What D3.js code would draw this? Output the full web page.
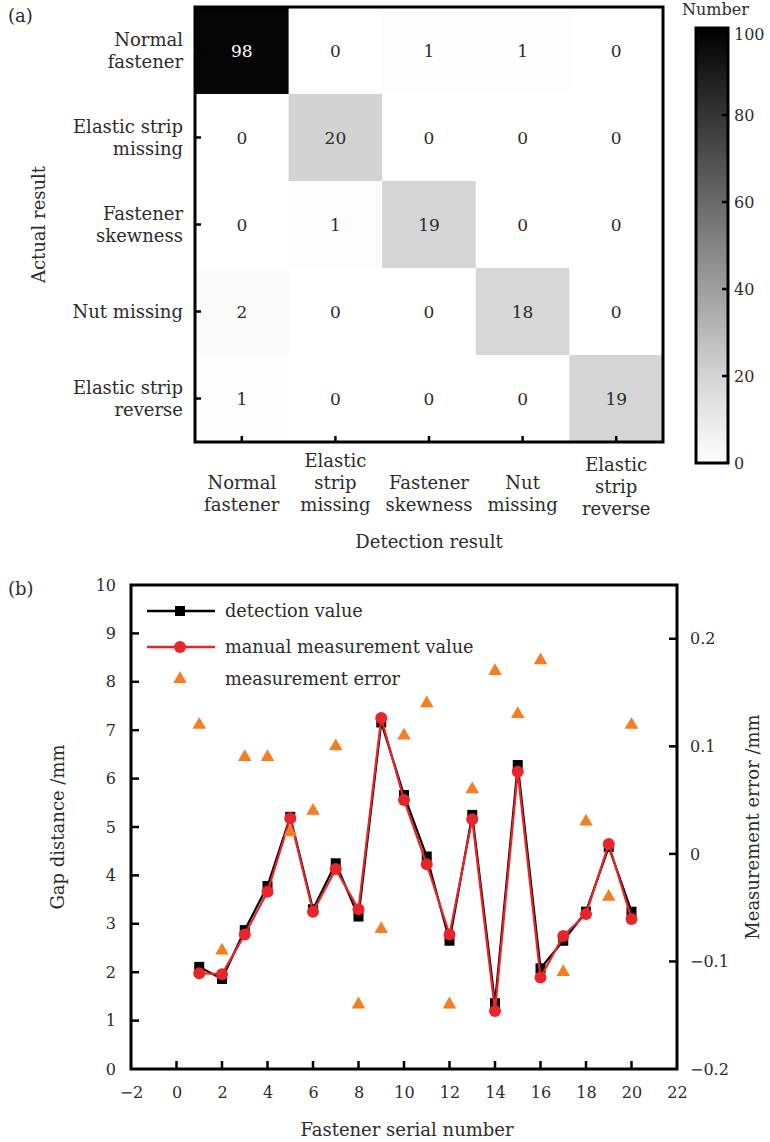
<!DOCTYPE html>
<html>
<head>
<meta charset="utf-8">
<script src="https://cdn.jsdelivr.net/npm/d3@7"></script>
<style>
  body { margin: 0; background: #fff; }
  text { font-family: "DejaVu Serif", serif; fill: #2b2b2b; }
</style>
</head>
<body>
<div id="chart"></div>
<script>
// (a) confusion matrix
var rowLabels = [["Normal", "fastener"], ["Elastic strip", "missing"], ["Fastener", "skewness"], ["Nut missing"], ["Elastic strip", "reverse"]];
var colLabels = [["Normal", "fastener"], ["Elastic", "strip", "missing"], ["Fastener", "skewness"], ["Nut", "missing"], ["Elastic", "strip", "reverse"]];
var matrix = [
    [98, 0, 1, 1, 0],
    [0, 20, 0, 0, 0],
    [0, 1, 19, 0, 0],
    [2, 0, 0, 18, 0],
    [1, 0, 0, 0, 19]
];
var colorTicks = [0, 20, 40, 60, 80, 100];

// (b) gap distance
var serial = [1, 2, 3, 4, 5, 6, 7, 8, 9, 10, 11, 12, 13, 14, 15, 16, 17, 18, 19, 20];
var detection = [2.11, 1.86, 2.87, 3.78, 5.21, 3.30, 4.25, 3.15, 7.16, 5.66, 4.39, 2.65, 5.25, 1.36, 6.28, 2.08, 2.65, 3.25, 4.59, 3.25];
var manual = [1.98, 1.96, 2.78, 3.66, 5.18, 3.25, 4.13, 3.30, 7.25, 5.56, 4.23, 2.78, 5.16, 1.20, 6.14, 1.89, 2.75, 3.20, 4.65, 3.10];
var errors = [0.12, -0.09, 0.09, 0.09, 0.02, 0.04, 0.10, -0.14, -0.07, 0.11, 0.14, -0.14, 0.06, 0.17, 0.13, 0.18, -0.11, 0.03, -0.04, 0.12];
var xTicks = [-2, 0, 2, 4, 6, 8, 10, 12, 14, 16, 18, 20, 22];
var yTicks = [0, 1, 2, 3, 4, 5, 6, 7, 8, 9, 10];
var y2Ticks = [-0.2, -0.1, 0, 0.1, 0.2];
var legendItems = ["detection value", "manual measurement value", "measurement error"];

var svg = d3.select("#chart").append("svg")
    .attr("width", 770)
    .attr("height", 1142);

/* ---------- (a) heatmap ---------- */
var hm = {left: 195, right: 663, top: 7, bottom: 442};

var hx = d3.scaleBand().domain(d3.range(5)).range([hm.left, hm.right]);
var hy = d3.scaleBand().domain(d3.range(5)).range([hm.top, hm.bottom]);
var color = d3.scaleLinear().domain([0, 20, 100]).range(["#ffffff", "#d3d3d3", "#000000"]);

var cells = [];
matrix.forEach(function(row, i) {
    row.forEach(function(v, j) { cells.push({r: i, c: j, v: v}); });
});

svg.append("g").selectAll("rect")
    .data(cells)
    .enter().append("rect")
    .attr("x", function(d) { return hx(d.c); })
    .attr("y", function(d) { return hy(d.r); })
    .attr("width", hx.bandwidth() + 0.5)
    .attr("height", hy.bandwidth() + 0.5)
    .attr("fill", function(d) { return color(d.v); });

svg.append("g").selectAll("text")
    .data(cells)
    .enter().append("text")
    .attr("x", function(d) { return hx(d.c) + hx.bandwidth() / 2; })
    .attr("y", function(d) { return hy(d.r) + hy.bandwidth() / 2 + 6; })
    .attr("text-anchor", "middle")
    .style("font-size", "17px")
    .style("fill", function(d) { return d.v > 50 ? "#ffffff" : "#2b2b2b"; })
    .text(function(d) { return d.v; });

// inner ticks
svg.append("g").selectAll("line")
    .data(d3.range(5))
    .enter().append("line")
    .attr("x1", hm.left).attr("x2", hm.left + 6)
    .attr("y1", function(d) { return hy(d) + hy.bandwidth() / 2; })
    .attr("y2", function(d) { return hy(d) + hy.bandwidth() / 2; })
    .attr("stroke", "#000").attr("stroke-width", 2.5);

svg.append("g").selectAll("line")
    .data(d3.range(5))
    .enter().append("line")
    .attr("y1", hm.bottom).attr("y2", hm.bottom - 6)
    .attr("x1", function(d) { return hx(d) + hx.bandwidth() / 2; })
    .attr("x2", function(d) { return hx(d) + hx.bandwidth() / 2; })
    .attr("stroke", "#000").attr("stroke-width", 2.5);

svg.append("rect")
    .attr("x", hm.left).attr("y", hm.top)
    .attr("width", hm.right - hm.left).attr("height", hm.bottom - hm.top)
    .attr("fill", "none").attr("stroke", "#000").attr("stroke-width", 3);

// row labels
rowLabels.forEach(function(lines, i) {
    var cy = hy(i) + hy.bandwidth() / 2;
    var t = svg.append("text")
        .attr("text-anchor", "end")
        .style("font-size", "18px");
    lines.forEach(function(s, k) {
        t.append("tspan")
            .attr("x", 183)
            .attr("y", cy + 6 + (k - (lines.length - 1) / 2) * 22)
            .text(s);
    });
});

// column labels
var colBase = [[489, 511], [467, 489, 511], [489, 511], [489, 511], [471, 493, 515]];
colLabels.forEach(function(lines, j) {
    var cx = hx(j) + hx.bandwidth() / 2;
    var t = svg.append("text")
        .attr("text-anchor", "middle")
        .style("font-size", "18px");
    lines.forEach(function(s, k) {
        t.append("tspan")
            .attr("x", cx)
            .attr("y", colBase[j][k])
            .text(s);
    });
});

svg.append("text")
    .attr("x", (hm.left + hm.right) / 2)
    .attr("y", 548)
    .attr("text-anchor", "middle")
    .style("font-size", "18px")
    .text("Detection result");

svg.append("text")
    .attr("transform", "translate(45," + (hm.top + hm.bottom) / 2 + ") rotate(-90)")
    .attr("text-anchor", "middle")
    .style("font-size", "18px")
    .text("Actual result");

svg.append("text")
    .attr("x", 8).attr("y", 22)
    .style("font-size", "18px")
    .text("(a)");

// colorbar
var cb = {left: 696, right: 728, top: 28, bottom: 463};
var cy = d3.scaleLinear().domain([0, 100]).range([cb.bottom, cb.top]);

var grad = svg.append("defs").append("linearGradient")
    .attr("id", "cbgrad")
    .attr("x1", "0").attr("y1", "1").attr("x2", "0").attr("y2", "0");
grad.selectAll("stop")
    .data(d3.range(0, 101, 5))
    .enter().append("stop")
    .attr("offset", function(d) { return d + "%"; })
    .attr("stop-color", function(d) { return color(d); });

svg.append("rect")
    .attr("x", cb.left).attr("y", cb.top)
    .attr("width", cb.right - cb.left).attr("height", cb.bottom - cb.top)
    .attr("fill", "url(#cbgrad)")
    .attr("stroke", "#000").attr("stroke-width", 3);

var cbAxis = d3.axisRight(cy).tickValues(colorTicks).tickSize(0).tickPadding(6);
var cbG = svg.append("g")
    .attr("transform", "translate(" + cb.right + ",0)")
    .call(cbAxis);
cbG.select(".domain").remove();
cbG.selectAll("text").style("font-size", "16px").attr("fill", null);
// top label sits a little lower, below the "Number" title
cbG.selectAll(".tick").filter(function(d) { return d === 100; })
    .select("text").attr("dy", "0.7em");
svg.append("g").selectAll("line")
    .data(colorTicks.slice(1, -1))
    .enter().append("line")
    .attr("x1", cb.right).attr("x2", cb.right - 6)
    .attr("y1", function(d) { return cy(d); })
    .attr("y2", function(d) { return cy(d); })
    .attr("stroke", "#000").attr("stroke-width", 2.5);

svg.append("text")
    .attr("x", 682).attr("y", 15)
    .style("font-size", "16px")
    .text("Number");

/* ---------- (b) line chart ---------- */
var pl = {left: 131, right: 677, top: 585, bottom: 1069};

var x = d3.scaleLinear().domain([-2, 22]).range([pl.left, pl.right]);
var y = d3.scaleLinear().domain([0, 10]).range([pl.bottom, pl.top]);
var y2 = d3.scaleLinear().domain([-0.2, 0.25]).range([pl.bottom, pl.top]);

var xAxis = d3.axisBottom(x).tickValues(xTicks).tickSize(0).tickPadding(18)
    .tickFormat(function(d) { return d < 0 ? "\u2212" + Math.abs(d) : d; });
var yAxis = d3.axisLeft(y).tickValues(yTicks).tickSize(0).tickPadding(15);
var y2Axis = d3.axisRight(y2).tickValues(y2Ticks).tickSize(0).tickPadding(13)
    .tickFormat(function(d) { return d < 0 ? "\u2212" + Math.abs(d) : d; });

var gx = svg.append("g").attr("transform", "translate(0," + pl.bottom + ")").call(xAxis);
var gy = svg.append("g").attr("transform", "translate(" + pl.left + ",0)").call(yAxis);
var gy2 = svg.append("g").attr("transform", "translate(" + pl.right + ",0)").call(y2Axis);
[gx, gy, gy2].forEach(function(g) {
    g.select(".domain").remove();
    g.selectAll("text").style("font-size", "16px").attr("fill", null);
});

// inward ticks
var tk = svg.append("g").attr("stroke", "#000").attr("stroke-width", 2.5);
tk.selectAll(".tx").data(xTicks.slice(1, -1)).enter().append("line")
    .attr("x1", function(d) { return x(d); }).attr("x2", function(d) { return x(d); })
    .attr("y1", pl.bottom).attr("y2", pl.bottom - 8);
tk.selectAll(".ty").data(yTicks.slice(1, -1)).enter().append("line")
    .attr("y1", function(d) { return y(d); }).attr("y2", function(d) { return y(d); })
    .attr("x1", pl.left).attr("x2", pl.left + 8);
tk.selectAll(".ty2").data(y2Ticks.slice(1)).enter().append("line")
    .attr("y1", function(d) { return y2(d); }).attr("y2", function(d) { return y2(d); })
    .attr("x1", pl.right).attr("x2", pl.right - 8);

var line = d3.line()
    .x(function(d) { return x(d[0]); })
    .y(function(d) { return y(d[1]); });

var detPts = serial.map(function(s, i) { return [s, detection[i]]; });
var manPts = serial.map(function(s, i) { return [s, manual[i]]; });
var errPts = serial.map(function(s, i) { return [s, errors[i]]; });

svg.append("path")
    .datum(detPts)
    .attr("fill", "none").attr("stroke", "#000").attr("stroke-width", 2.2)
    .attr("d", line);
svg.append("g").selectAll("rect")
    .data(detPts)
    .enter().append("rect")
    .attr("x", function(d) { return x(d[0]) - 5; })
    .attr("y", function(d) { return y(d[1]) - 5; })
    .attr("width", 10).attr("height", 10)
    .attr("fill", "#000");

svg.append("path")
    .datum(manPts)
    .attr("fill", "none").attr("stroke", "#e8262a").attr("stroke-width", 2.2)
    .attr("d", line);
svg.append("g").selectAll("circle")
    .data(manPts)
    .enter().append("circle")
    .attr("cx", function(d) { return x(d[0]); })
    .attr("cy", function(d) { return y(d[1]); })
    .attr("r", 6)
    .attr("fill", "#e8262a");

var tri = d3.symbol().type(d3.symbolTriangle).size(80);
svg.append("g").selectAll("path")
    .data(errPts)
    .enter().append("path")
    .attr("transform", function(d) { return "translate(" + x(d[0]) + "," + y2(d[1]) + ")"; })
    .attr("d", tri)
    .attr("fill", "#f47f22");

svg.append("rect")
    .attr("x", pl.left).attr("y", pl.top)
    .attr("width", pl.right - pl.left).attr("height", pl.bottom - pl.top)
    .attr("fill", "none").attr("stroke", "#000").attr("stroke-width", 3);

// legend
var lg = svg.append("g");
var legY = [611, 647, 679];
lg.append("line").attr("x1", 147).attr("x2", 215).attr("y1", legY[0]).attr("y2", legY[0])
    .attr("stroke", "#000").attr("stroke-width", 2.5);
lg.append("rect").attr("x", 175).attr("y", legY[0] - 5).attr("width", 10).attr("height", 10).attr("fill", "#000");
lg.append("line").attr("x1", 147).attr("x2", 215).attr("y1", legY[1]).attr("y2", legY[1])
    .attr("stroke", "#e8262a").attr("stroke-width", 2.5);
lg.append("circle").attr("cx", 180).attr("cy", legY[1]).attr("r", 6).attr("fill", "#e8262a");
lg.append("path").attr("transform", "translate(180," + legY[2] + ")").attr("d", tri).attr("fill", "#f47f22");
lg.selectAll("text")
    .data(legendItems)
    .enter().append("text")
    .attr("x", 225)
    .attr("y", function(d, i) { return legY[i] + 6; })
    .style("font-size", "17.7px")
    .text(function(d) { return d; });

svg.append("text")
    .attr("x", (pl.left + pl.right) / 2 + 3)
    .attr("y", 1136)
    .attr("text-anchor", "middle")
    .style("font-size", "18px")
    .text("Fastener serial number");

svg.append("text")
    .attr("transform", "translate(64," + (pl.top + pl.bottom) / 2 + ") rotate(-90)")
    .attr("text-anchor", "middle")
    .style("font-size", "18px")
    .text("Gap distance /mm");

svg.append("text")
    .attr("transform", "translate(759," + (pl.top + pl.bottom) / 2 + ") rotate(-90)")
    .attr("text-anchor", "middle")
    .style("font-size", "18px")
    .text("Measurement error /mm");

svg.append("text")
    .attr("x", 8).attr("y", 595)
    .style("font-size", "18px")
    .text("(b)");
</script>
</body>
</html>
